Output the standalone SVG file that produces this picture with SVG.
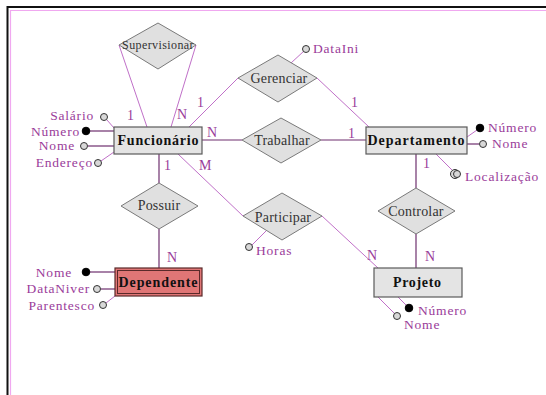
<svg xmlns="http://www.w3.org/2000/svg" width="546" height="395" viewBox="0 0 546 395">
<style>
.lbl{font-family:"Liberation Serif",serif;font-size:13.5px;fill:#9a3c9a;letter-spacing:0.8px}
.card{font-family:"Liberation Serif",serif;font-size:14px;fill:#9a3c9a}
.rel{font-family:"Liberation Serif",serif;font-size:14px;fill:#333;text-anchor:middle;letter-spacing:0.2px}
.ent{font-family:"Liberation Serif",serif;font-size:14px;font-weight:bold;fill:#111;text-anchor:middle}
.dia{fill:#e0e0e0;stroke:#7a7a7a;stroke-width:1}
.box{fill:#e4e4e4;stroke:#5a5a5a;stroke-width:1.2}
.dk{stroke:#6e2f6e;stroke-width:1.2;fill:none}
.pk{stroke:#c070c8;stroke-width:1;fill:none}
.oc{fill:#d8d8d8;stroke:#333;stroke-width:1}
.fc{fill:#000;stroke:#000;stroke-width:1}
.end{text-anchor:end}
</style>
<rect width="546" height="395" fill="#fff"/>
<g id="frame">
<polyline points="7.5,395 7.5,7 546,7" fill="none" stroke="#111" stroke-width="2"/>
<polyline points="10.5,395 10.5,10.5 546,10.5" fill="none" stroke="#f0a8f0" stroke-width="1.2"/>
</g>
<g id="connectors">
<line class="pk" x1="119" y1="45" x2="147" y2="127"/>
<line class="pk" x1="196" y1="45" x2="171" y2="127"/>
<line class="pk" x1="238" y1="78" x2="189" y2="127"/>
<line class="pk" x1="317" y1="78" x2="369" y2="127"/>
<line class="pk" x1="291" y1="63" x2="304" y2="51"/>
<line class="dk" x1="202" y1="140" x2="242" y2="140"/>
<line class="dk" x1="321" y1="140" x2="366" y2="140"/>
<line class="dk" x1="159" y1="154" x2="159" y2="183"/>
<line class="dk" x1="159" y1="229" x2="159" y2="268"/>
<line class="pk" x1="178" y1="154" x2="243" y2="216"/>
<line class="pk" x1="322" y1="216" x2="378" y2="268"/>
<line class="pk" x1="266" y1="231" x2="252" y2="245"/>
<line class="dk" x1="416" y1="154" x2="416" y2="188"/>
<line class="dk" x1="416" y1="234" x2="416" y2="268"/>
<line class="pk" x1="436" y1="154" x2="452" y2="170"/>
<line class="pk" x1="467" y1="137" x2="477" y2="130"/>
<line class="dk" x1="467" y1="144" x2="479" y2="144"/>
<line class="pk" x1="114" y1="128" x2="107" y2="120"/>
<line class="dk" x1="90" y1="131" x2="114" y2="131"/>
<line class="dk" x1="88" y1="146" x2="114" y2="146"/>
<line class="pk" x1="114" y1="152" x2="101" y2="161"/>
<line class="dk" x1="90" y1="272" x2="115" y2="272"/>
<line class="dk" x1="101" y1="289" x2="115" y2="289"/>
<line class="pk" x1="115" y1="296" x2="106" y2="303"/>
<line class="pk" x1="398" y1="297" x2="407" y2="306"/>
<line class="pk" x1="378" y1="297" x2="395" y2="314"/>
</g>
<g id="cardinalities">
<text class="card" x="127" y="120">1</text>
<text class="card" x="177" y="119">N</text>
<text class="card" x="197" y="107">1</text>
<text class="card" x="207" y="137">N</text>
<text class="card" x="164" y="170">1</text>
<text class="card" x="199" y="170">M</text>
<text class="card" x="351" y="107">1</text>
<text class="card" x="348" y="138">1</text>
<text class="card" x="423" y="168">1</text>
<text class="card" x="167" y="262">N</text>
<text class="card" x="367" y="260">N</text>
<text class="card" x="425" y="261">N</text>
</g>
<g id="Supervisionar">
<polygon class="dia" points="158,23 196,45 158,69 119,45"/>
<text class="rel" x="158" y="49" style="font-size:12px;letter-spacing:0.4px">Supervisionar</text>
</g>
<g id="Gerenciar">
<polygon class="dia" points="278,55 317,78 278,102 238,78"/>
<text class="rel" x="279" y="83">Gerenciar</text>
</g>
<g id="Trabalhar">
<polygon class="dia" points="281,118 321,140 281,163 242,140"/>
<text class="rel" x="282" y="145">Trabalhar</text>
</g>
<g id="Possuir">
<polygon class="dia" points="159,183 198,206 159,229 121,206"/>
<text class="rel" x="159" y="210">Possuir</text>
</g>
<g id="Participar">
<polygon class="dia" points="282,193 322,216 282,240 243,216"/>
<text class="rel" x="283" y="222">Participar</text>
</g>
<g id="Controlar">
<polygon class="dia" points="416,188 455,211 416,234 378,211"/>
<text class="rel" x="416" y="216">Controlar</text>
</g>
<g id="Funcionario">
<rect class="box" x="114" y="127" width="88" height="27"/>
<text class="ent" x="158" y="145" textLength="81" lengthAdjust="spacing">Funcionário</text>
<circle class="oc" cx="104" cy="117" r="3.5"/>
<circle class="fc" cx="86" cy="131" r="3.8"/>
<circle class="oc" cx="84" cy="146" r="3.5"/>
<circle class="oc" cx="98" cy="163" r="3.5"/>
<text class="lbl end" x="94" y="120">Salário</text>
<text class="lbl end" x="80" y="136">Número</text>
<text class="lbl end" x="75" y="150">Nome</text>
<text class="lbl end" x="93" y="167">Endereço</text>
</g>
<g id="Departamento">
<rect class="box" x="366" y="127" width="101" height="27"/>
<text class="ent" x="416" y="145" textLength="97" lengthAdjust="spacing">Departamento</text>
<circle class="fc" cx="480" cy="128" r="3.8"/>
<circle class="oc" cx="483" cy="144" r="3.5"/>
<circle class="oc" cx="455" cy="174" r="4.5"/>
<circle class="oc" cx="457" cy="174" r="3.5"/>
<text class="lbl" x="488" y="132">Número</text>
<text class="lbl" x="492" y="148">Nome</text>
<text class="lbl" x="465" y="181">Localização</text>
</g>
<g id="Dependente">
<rect x="115" y="268" width="87" height="28" fill="#e07676" stroke="#5a2a2a" stroke-width="1.2"/>
<rect x="117.5" y="270.5" width="82" height="23" fill="none" stroke="#5a2a2a" stroke-width="1"/>
<text class="ent" x="158" y="287" textLength="79" lengthAdjust="spacing">Dependente</text>
<circle class="fc" cx="86" cy="272" r="3.8"/>
<circle class="oc" cx="97" cy="289" r="3.5"/>
<circle class="oc" cx="103" cy="305" r="3.5"/>
<text class="lbl end" x="72" y="277">Nome</text>
<text class="lbl end" x="90" y="293">DataNiver</text>
<text class="lbl end" x="95" y="310">Parentesco</text>
</g>
<g id="Projeto">
<rect class="box" x="374" y="268" width="88" height="29"/>
<text class="ent" x="417" y="287" textLength="48" lengthAdjust="spacing">Projeto</text>
<circle class="fc" cx="409" cy="308" r="3.8"/>
<circle class="oc" cx="397" cy="316" r="3.5"/>
<text class="lbl" x="418" y="315">Número</text>
<text class="lbl" x="404" y="329">Nome</text>
</g>
<g id="relAttrs">
<circle class="oc" cx="306" cy="49" r="3.5"/>
<text class="lbl" x="313" y="53">DataIni</text>
<circle class="oc" cx="249" cy="247" r="3.5"/>
<text class="lbl" x="256" y="255">Horas</text>
</g>
</svg>
